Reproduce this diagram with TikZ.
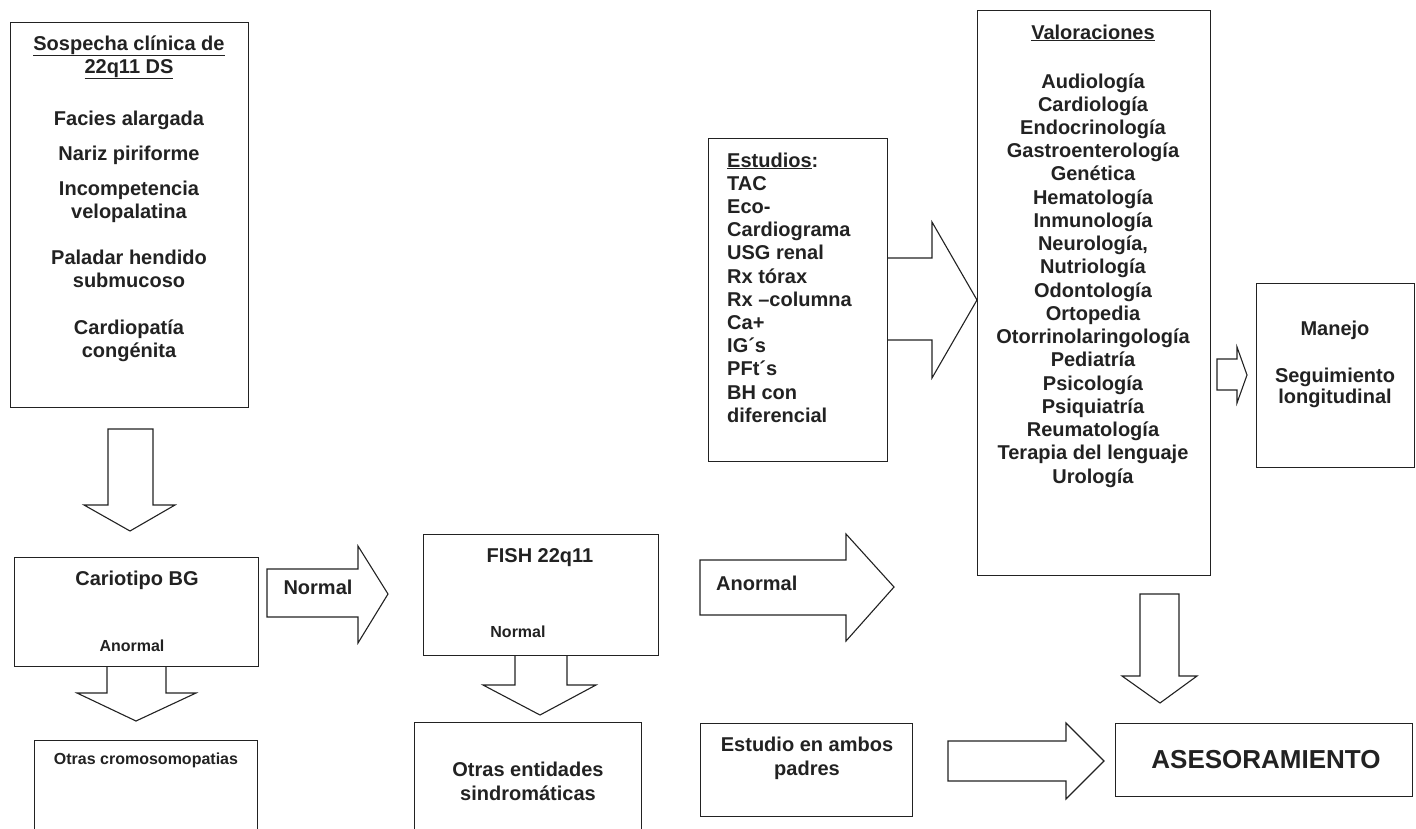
\documentclass[tikz,border=0pt]{standalone}
\usepackage{fontspec}
\setmainfont{Liberation Sans}
\definecolor{ink}{HTML}{222222}
\begin{document}
\begin{tikzpicture}[x=1pt,y=-1pt,
  box/.style={draw=ink, line width=1.1pt, fill=white, inner sep=0pt, anchor=north west},
  barrow/.style={draw=ink, line width=1.1pt, fill=white, line join=miter},
  txt/.style={text=ink, font=\fontsize{20}{23.25}\selectfont\bfseries, inner sep=0pt, anchor=base},
  small/.style={text=ink, font=\fontsize{16}{19}\selectfont\bfseries, inner sep=0pt, anchor=base},
  big/.style={text=ink, font=\fontsize{26}{30}\selectfont\bfseries, inner sep=0pt, anchor=base}]
\clip (0,0) rectangle (1416,828);
\fill[white] (0,0) rectangle (1416,828);

% block arrows
\draw[barrow] (108,429) -- (153,429) -- (153,505) -- (175,505) -- (130,531) -- (84,505) -- (108,505) -- cycle;
\draw[barrow] (107,666) -- (166,666) -- (166,693) -- (196,693) -- (136,721) -- (77,693) -- (107,693) -- cycle;
\draw[barrow] (267,569) -- (358,569) -- (358,546) -- (388,594) -- (358,643) -- (358,617) -- (267,617) -- cycle;
\draw[barrow] (515,655) -- (567,655) -- (567,685) -- (596,685) -- (540,715) -- (483,685) -- (515,685) -- cycle;
\draw[barrow] (700,560) -- (846,560) -- (846,534) -- (894,587) -- (846,641) -- (846,615) -- (700,615) -- cycle;
\draw[barrow] (887,258) -- (932,258) -- (932,222) -- (977,300) -- (932,378) -- (932,340) -- (887,340) -- cycle;
\draw[barrow] (1217,359) -- (1237,359) -- (1237,347) -- (1247,375) -- (1237,403) -- (1237,390) -- (1217,390) -- cycle;
\draw[barrow] (1140,594) -- (1179,594) -- (1179,676) -- (1197,676) -- (1160,703) -- (1122,676) -- (1140,676) -- cycle;
\draw[barrow] (948,741) -- (1066,741) -- (1066,723) -- (1104,761) -- (1066,799) -- (1066,781) -- (948,781) -- cycle;

% boxes
\node[box, minimum width=238pt, minimum height=385pt] (sosp) at (10,22) {};
\node[box, minimum width=244pt, minimum height=109pt] (cario) at (14,557) {};
\node[box, minimum width=223pt, minimum height=120pt] (otrcr) at (34,740) {};
\node[box, minimum width=235pt, minimum height=121pt] (fish) at (423,534) {};
\node[box, minimum width=227pt, minimum height=130pt] (otrent) at (414,722) {};
\node[box, minimum width=212pt, minimum height=93pt] (padres) at (700,723) {};
\node[box, minimum width=179pt, minimum height=323pt] (estud) at (708,138) {};
\node[box, minimum width=233pt, minimum height=565pt] (valor) at (977,10) {};
\node[box, minimum width=158pt, minimum height=184pt] (manejo) at (1256,283) {};
\node[box, minimum width=297pt, minimum height=73pt] (ases) at (1115,723) {};

% texts: Sospecha
\node[txt] (s1) at (129,50) {\underline{Sospecha clínica de}};
\node[txt] (s2) at (129,73) {\underline{22q11 DS}};
\node[txt] (s3) at (129,125) {Facies alargada};
\node[txt] (s4) at (129,160) {Nariz piriforme};
\node[txt] (s5) at (129,195) {Incompetencia};
\node[txt] (s6) at (129,218) {velopalatina};
\node[txt] (s7) at (129,264) {Paladar hendido};
\node[txt] (s8) at (129,287) {submucoso};
\node[txt] (s9) at (129,334) {Cardiopatía};
\node[txt] (s10) at (129,357) {congénita};

\node[txt] (c1) at (137,585) {Cariotipo BG};
\node[small] (c2) at (132,651) {Anormal};
\node[small] (o1) at (146,764) {Otras cromosomopatias};
\node[txt] (n1) at (318,594) {Normal};
\node[txt] (f1) at (540,562) {FISH 22q11};
\node[small] (f2) at (518,637) {Normal};
\node[txt, anchor=base west] (a1) at (716,590) {Anormal};
\node[txt] (e1) at (528,776) {Otras entidades};
\node[txt] (e2) at (528,800) {sindromáticas};
\node[txt] (p1) at (807,751) {Estudio en ambos};
\node[txt] (p2) at (807,775) {padres};
\node[big] (as1) at (1266,768) {ASESORAMIENTO};
\node[txt] (m1) at (1335,335) {Manejo};
\node[txt] (m2) at (1335,382) {Seguimiento};
\node[txt] (m3) at (1335,403) {longitudinal};

\node[txt] (vt) at (1093,39) {\underline{Valoraciones}};
\foreach \t [count=\i from 0] in {Audiología, Cardiología, Endocrinología, Gastroenterología, Genética, Hematología, Inmunología, {Neurología,}, Nutriología, Odontología, Ortopedia, Otorrinolaringología, Pediatría, Psicología, Psiquiatría, Reumatología, Terapia del lenguaje, Urología}
  \node[txt] (v\i) at (1093,{88+23.24*\i}) {\t};

\foreach \t [count=\i from 0] in {{\underline{Estudios}:}, TAC, Eco-, Cardiograma, USG renal, Rx tórax, Rx –columna, Ca+, IG´s, PFt´s, BH con, diferencial}
  \node[txt, anchor=base west] (t\i) at (727,{167+23.2*\i}) {\t};
\end{tikzpicture}
\end{document}
